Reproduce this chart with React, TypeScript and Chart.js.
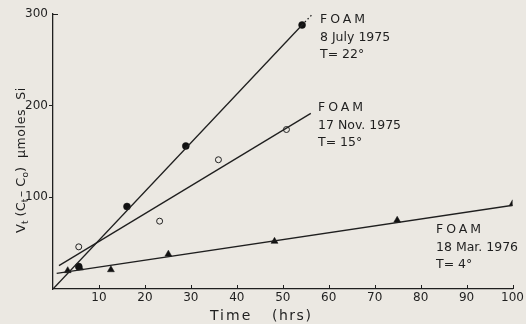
import React, { useEffect, useRef } from "react";
import { Chart, registerables } from "chart.js";

Chart.register(...registerables);

// Filled circles: FOAM 8 July 1975, T=22°
const julyTime = [5.6, 16.1, 28.9, 54.2];
const julyUptake = [24.5, 90, 156, 288];
// Open circles: FOAM 17 Nov. 1975, T=15°
const novTime = [5.6, 23.2, 36.0, 50.8];
const novUptake = [46, 74, 141, 174];
// Filled triangles: FOAM 18 Mar. 1976, T=4°
const marTime = [3.2, 5.9, 12.6, 25.1, 48.2, 74.9, 100];
const marUptake = [20, 23, 21, 38, 52, 75, 93];

// Fitted lines (end points)
const julyFitTime = [0, 54.2];
const julyFitUptake = [0, 288];
const julyDashTime = [54.2, 56.3];
const julyDashUptake = [288, 299];
const novFitTime = [1.3, 56.1];
const novFitUptake = [25.5, 191.6];
const marFitTime = [0.8, 100.3];
const marFitUptake = [17, 91.5];

const xTicks = [10, 20, 30, 40, 50, 60, 70, 80, 90, 100];
const yTicks = [100, 200, 300];

const julyLabel = ["FOAM", "8 July 1975", "T= 22°"];
const novLabel = ["FOAM", "17 Nov. 1975", "T= 15°"];
const marLabel = ["FOAM", "18 Mar. 1976", "T= 4°"];

const INK = "#1f1f1f";
const PAPER = "#ebe8e2";
const FONT = "DejaVu Sans";

const zip = (xs: number[], ys: number[]) => xs.map((x, i) => ({ x, y: ys[i] }));

const textPlugin = {
  id: "textPlugin",
  afterDraw(chart: any) {
    const ctx = chart.ctx as CanvasRenderingContext2D;
    const xs = chart.scales.x;
    const ys = chart.scales.y;
    ctx.save();
    ctx.fillStyle = INK;
    ctx.strokeStyle = INK;
    ctx.lineWidth = 1;
    // inward x ticks
    ctx.beginPath();
    for (const t of xTicks) {
      const px = Math.round(xs.getPixelForValue(t)) + 0.5;
      ctx.moveTo(px, ys.bottom);
      ctx.lineTo(px, ys.bottom - 4);
    }
    // top corner tick of the y axis
    const topY = Math.round(ys.getPixelForValue(300)) + 0.5;
    ctx.moveTo(xs.left, topY);
    ctx.lineTo(xs.left + 5, topY);
    ctx.stroke();

    const block = (lines: string[], x: number, y: number) => {
      ctx.font = `12.5px "${FONT}"`;
      ctx.textAlign = "left";
      ctx.textBaseline = "alphabetic";
      lines.forEach((s, i) => {
        (ctx as any).letterSpacing = i === 0 ? "3px" : "0px";
        ctx.fillText(s, x, y + i * 17.5);
      });
      (ctx as any).letterSpacing = "0px";
    };
    block(julyLabel, 320, 23);
    block(novLabel, 318, 111);
    block(marLabel, 436, 233);

    // x axis title
    ctx.font = `14px "${FONT}"`;
    (ctx as any).letterSpacing = "2px";
    ctx.fillText("Time", 210, 320);
    (ctx as any).letterSpacing = "1.5px";
    ctx.fillText("(hrs)", 272, 320);
    (ctx as any).letterSpacing = "0px";

    // y axis title (rotated)
    ctx.translate(25, 233);
    ctx.rotate(-Math.PI / 2);
    let cx = 0;
    const seg = (s: string, size: number, dy: number, ls = 0) => {
      ctx.font = `${size}px "${FONT}"`;
      (ctx as any).letterSpacing = ls + "px";
      ctx.fillText(s, cx, dy);
      cx += ctx.measureText(s).width;
    };
    seg("V", 13, 0);
    seg("t", 9, 3);
    seg(" (C", 13, 0);
    seg("t", 9, 3);
    cx += 1.5;
    seg("– C", 13, 0);
    seg("o", 9, 3);
    seg(")", 13, 0);
    cx += 9;
    seg("µmoles  Si", 12.5, 0, 0.6);
    ctx.restore();
  },
};

export default function App() {
  const ref = useRef<HTMLCanvasElement | null>(null);
  useEffect(() => {
    document.body.style.margin = "0";
    document.body.style.background = PAPER;
    const lineDs = (xs: number[], ys: number[], dash: number[] = []) => ({
      data: zip(xs, ys),
      showLine: true,
      borderColor: INK,
      borderWidth: 1.3,
      borderDash: dash,
      pointRadius: 0,
      pointHoverRadius: 0,
      fill: false,
    });
    const chart = new Chart(ref.current as HTMLCanvasElement, {
      type: "scatter",
      data: {
        datasets: [
          lineDs(julyFitTime, julyFitUptake),
          lineDs(julyDashTime, julyDashUptake, [1.5, 2.5]),
          lineDs(novFitTime, novFitUptake),
          lineDs(marFitTime, marFitUptake),
          {
            data: zip(julyTime, julyUptake),
            pointStyle: "circle",
            pointRadius: 3.5,
            backgroundColor: "#111",
            borderColor: "#111",
            borderWidth: 0.5,
          },
          {
            data: zip(novTime, novUptake),
            pointStyle: "circle",
            pointRadius: 3,
            backgroundColor: PAPER,
            borderColor: "#222",
            borderWidth: 1,
          },
          {
            data: zip(marTime, marUptake),
            pointStyle: "triangle",
            pointRadius: 4,
            backgroundColor: "#111",
            borderColor: "#111",
            borderWidth: 0.5,
          },
        ] as any,
      },
      options: {
        responsive: false,
        animation: false,
        devicePixelRatio: 1,
        layout: { padding: { top: 14, right: 11, left: 0, bottom: 0 } },
        plugins: {
          legend: { display: false },
          tooltip: { enabled: false },
          title: { display: false },
        },
        scales: {
          x: {
            type: "linear",
            min: 0,
            max: 100,
            afterFit: (s: any) => {
              s.height = 35;
            },
            afterBuildTicks: (s: any) => {
              s.ticks = [0, ...xTicks].map((v) => ({ value: v }));
            },
            grid: { display: false, drawTicks: false },
            border: { display: true, color: INK, width: 1.3 },
            ticks: {
              padding: 2,
              color: INK,
              font: { family: FONT, size: 12 },
              maxRotation: 0,
              autoSkip: false,
              callback: (v: any) => (v === 0 ? "" : String(v)),
            },
          },
          y: {
            type: "linear",
            min: 0,
            max: 300,
            afterFit: (s: any) => {
              s.width = 53;
            },
            afterBuildTicks: (s: any) => {
              s.ticks = [0, ...yTicks].map((v) => ({ value: v }));
            },
            grid: {
              drawOnChartArea: false,
              drawTicks: true,
              tickLength: 4,
              color: (c: any) =>
                c.tick && (c.tick.value === 300 || c.tick.value === 0) ? "rgba(0,0,0,0)" : INK,
              lineWidth: 1,
            },
            border: { display: true, color: INK, width: 1.3 },
            ticks: {
              padding: 1,
              color: INK,
              font: { family: FONT, size: 12 },
              autoSkip: false,
              callback: (v: any) => (v === 0 ? "" : String(v)),
            },
          },
        },
      },
      plugins: [textPlugin],
    });
    return () => chart.destroy();
  }, []);
  return (
    <div style={{ width: 526, height: 324, background: PAPER }}>
      <canvas ref={ref} width={526} height={324} />
    </div>
  );
}
